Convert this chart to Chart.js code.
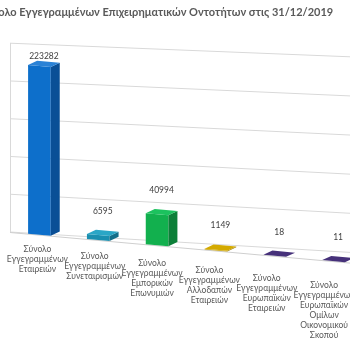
<!DOCTYPE html>
<html>
<head>
<meta charset="utf-8">
<script src="https://cdn.jsdelivr.net/npm/chart.js@4.4.1/dist/chart.umd.min.js"></script>
<style>
  html, body { margin: 0; padding: 0; background: #fff; overflow: hidden; width: 350px; height: 350px; }
  #wrap { position: absolute; left: -20px; top: 0; width: 383px; height: 350px; }
</style>
</head>
<body>
<div id="wrap"><canvas id="entities" width="383" height="350"></canvas></div>
<script>
const chartTitle = "Σύνολο Εγγεγραμμένων Επιχειρηματικών Οντοτήτων στις 31/12/2019";
const categories = [
    ["Σύνολο", "Εγγεγραμμένων", "Εταιρειών"],
    ["Σύνολο", "Εγγεγραμμένων", "Συνεταιρισμών"],
    ["Σύνολο", "Εγγεγραμμένων", "Εμπορικών", "Επωνυμιών"],
    ["Σύνολο", "Εγγεγραμμένων", "Αλλοδαπών", "Εταιρειών"],
    ["Σύνολο", "Εγγεγραμμένων", "Ευρωπαϊκών", "Εταιρειών"],
    ["Σύνολο", "Εγγεγραμμένων", "Ευρωπαϊκών", "Ομίλων", "Οικονομικού", "Σκοπού"]
];
const totals = [223282, 6595, 40994, 1149, 18, 11];
const yTicks = [0, 50000, 100000, 150000, 200000, 250000];

// front / side / top colours for each bar
const frontColors = ["#0d6fcb", "#1a8fb0", "#12b04e", "#c9a100", "#3f2b6e", "#3f2b6e"];
const sideColors = ["#0a4f96", "#146f8a", "#0c7f38", "#9c7c00", "#2c1e50", "#2c1e50"];
const topColors = ["#2a82d6", "#2aa6c6", "#1cc25e", "#d4aa00", "#46317a", "#46317a"];

const FONT = "Lato, 'Open Sans', sans-serif";
const DX = 9, DY = -5;     // depth of the bar boxes
const FLOOR = 0.09;        // slope of the floor the bars stand on
const WALL0 = 0.06, WALL1 = 0.04;  // slope of the back wall lines, bottom / top
const LABEL_SLOPE = 0.122;

// perspective-ish look: sloped wall lines, sheared bars with side and top
// faces, values above the bars and the category names under the floor
const box3d = {
    id: "box3d",
    beforeDatasetsDraw(chart) {
        const ctx = chart.ctx;
        const area = chart.chartArea;
        const y = chart.scales.y;
        const xEnd = chart.width;
        ctx.save();
        ctx.strokeStyle = "#d9d9d9";
        ctx.lineWidth = 1;
        yTicks.forEach(function (v) {
            const py = y.getPixelForValue(v);
            const k = WALL0 + (WALL1 - WALL0) * (v / y.max);
            ctx.beginPath();
            ctx.moveTo(area.left, py);
            ctx.lineTo(xEnd, py + k * (xEnd - area.left));
            ctx.stroke();
        });
        ctx.restore();

        // everything in the dataset layer is drawn on the sloped floor
        ctx.save();
        ctx.transform(1, FLOOR, 0, 1, 0, -FLOOR * area.left);
        ctx.strokeStyle = "#cfcfcf";
        ctx.beginPath();
        ctx.moveTo(area.left, area.bottom + 0.5);
        ctx.lineTo(xEnd, area.bottom + 0.5);
        ctx.stroke();
    },
    afterDatasetsDraw(chart) {
        const ctx = chart.ctx;
        const area = chart.chartArea;
        const meta = chart.getDatasetMeta(0);
        meta.data.forEach(function (bar, i) {
            const l = bar.x - bar.width / 2, r = bar.x + bar.width / 2;
            const top = bar.y, base = bar.base;
            ctx.fillStyle = sideColors[i];
            ctx.beginPath();
            ctx.moveTo(r, top);
            ctx.lineTo(r + DX, top + DY);
            ctx.lineTo(r + DX, base + DY);
            ctx.lineTo(r, base);
            ctx.closePath();
            ctx.fill();
            ctx.fillStyle = topColors[i];
            ctx.beginPath();
            ctx.moveTo(l, top);
            ctx.lineTo(l + DX, top + DY);
            ctx.lineTo(r + DX, top + DY);
            ctx.lineTo(r, top);
            ctx.closePath();
            ctx.fill();
        });
        ctx.restore();

        ctx.save();
        ctx.textAlign = "center";
        ctx.textBaseline = "middle";
        meta.data.forEach(function (bar, i) {
            const drop = FLOOR * (bar.x - area.left);
            const ly = Math.max(bar.y + drop - 24, area.top + 13);
            ctx.fillStyle = "#404040";
            ctx.font = "8.5px " + FONT;
            ctx.fillText(totals[i], bar.x + DX / 2, ly);
        });
        const xs = chart.scales.x;
        ctx.fillStyle = "#595959";
        ctx.font = "8.5px " + FONT;
        categories.forEach(function (lines, i) {
            const tx = xs.getPixelForTick(i);
            const cx = tx - 2 - 1.5 * i;
            const y0 = area.bottom + 13.5 + LABEL_SLOPE * (tx - area.left);
            lines.forEach(function (line, j) {
                ctx.fillText(line, cx, y0 + j * 10);
            });
        });
        ctx.restore();
    }
};

new Chart(document.getElementById("entities"), {
    type: "bar",
    data: {
        labels: categories,
        datasets: [{
            data: totals,
            backgroundColor: frontColors,
            barPercentage: 0.55,
            categoryPercentage: 0.7,
            clip: false
        }]
    },
    options: {
        responsive: false,
        animation: false,
        layout: { padding: { top: 6, right: 0, bottom: 0, left: 0 } },
        plugins: {
            legend: { display: false },
            tooltip: { enabled: false },
            title: {
                display: true,
                text: chartTitle,
                align: "start",
                color: "#595959",
                font: { family: FONT, size: 11, weight: "bold" },
                padding: { top: 0, bottom: 24 }
            }
        },
        scales: {
            x: {
                afterFit: function (scale) { scale.height = 118; },
                grid: { display: false },
                border: { display: false },
                ticks: { display: false }
            },
            y: {
                min: 0,
                max: 250000,
                afterBuildTicks: function (scale) {
                    scale.ticks = yTicks.map(v => ({ value: v }));
                },
                afterFit: function (scale) { scale.width = 30; },
                grid: { display: false },
                border: { color: "#d9d9d9" },
                ticks: {
                    color: "#595959",
                    font: { family: FONT, size: 8 },
                    padding: 4
                }
            }
        }
    },
    plugins: [box3d]
});
</script>
</body>
</html>
